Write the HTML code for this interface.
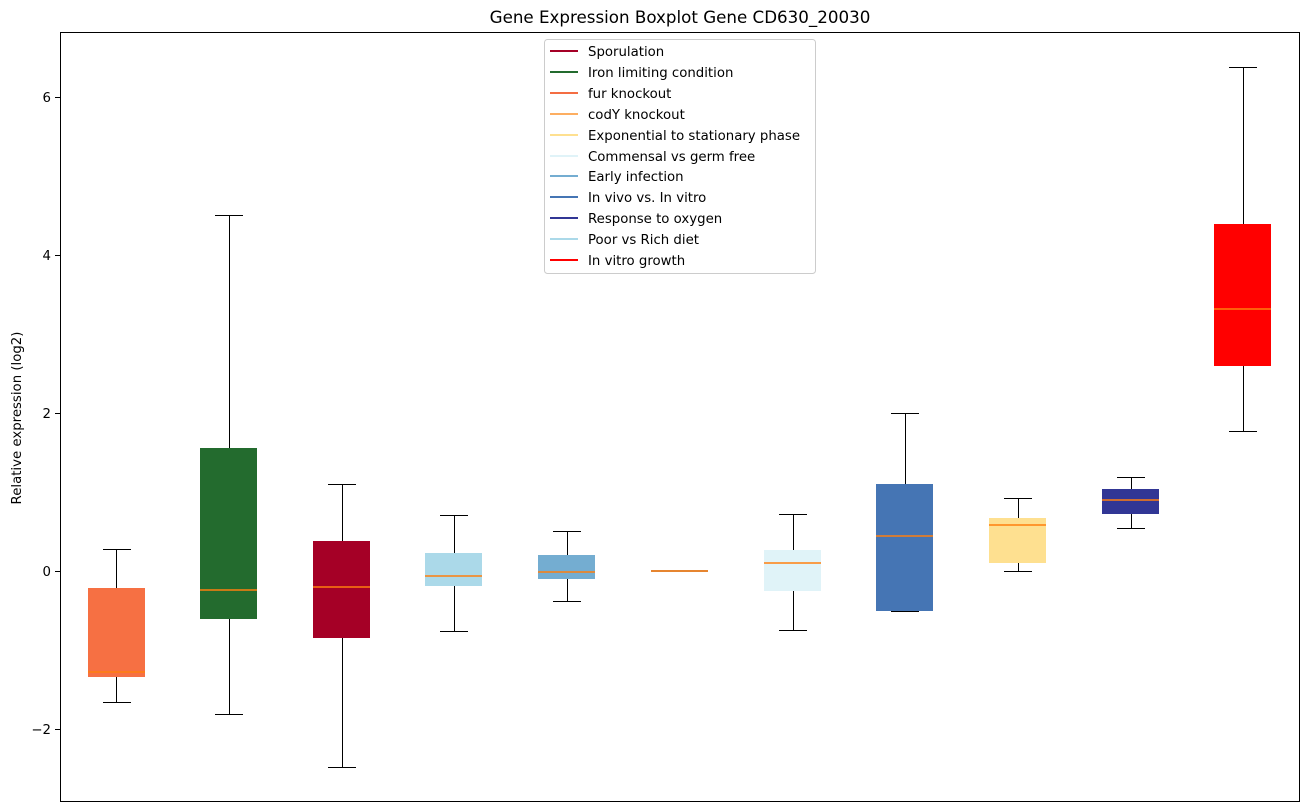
<!DOCTYPE html>
<html><head><meta charset="utf-8"><style>body{margin:0;background:#fff}svg{display:block;font-family:"DejaVu Sans","Liberation Sans",sans-serif}</style></head><body>
<svg width="1309" height="812" xmlns="http://www.w3.org/2000/svg">
<rect width="1309" height="812" fill="#fff"/>
<text x="680" y="23" font-size="16.7" text-anchor="middle">Gene Expression Boxplot Gene CD630_20030</text>
<text transform="translate(21,418) rotate(-90)" font-size="13.3" text-anchor="middle">Relative expression (log2)</text>
<g font-size="13.3" text-anchor="end">
<line x1="55" x2="60" y1="97.5" y2="97.5" stroke="#000"/><text x="51" y="102">6</text>
<line x1="55" x2="60" y1="255.5" y2="255.5" stroke="#000"/><text x="51" y="260">4</text>
<line x1="55" x2="60" y1="413.5" y2="413.5" stroke="#000"/><text x="51" y="418">2</text>
<line x1="55" x2="60" y1="571.5" y2="571.5" stroke="#000"/><text x="51" y="576">0</text>
<line x1="55" x2="60" y1="729.5" y2="729.5" stroke="#000"/><text x="51" y="734">−2</text>
</g>
<g stroke="#000" stroke-width="1" fill="none">
<path d="M116.5 549V588M116.5 677V702M103 549.5H131M103 702.5H131"/>
<path d="M229.5 215V448M229.5 619V714M215 215.5H243M215 714.5H243"/>
<path d="M342.5 484V541M342.5 638V767M328 484.5H356M328 767.5H356"/>
<path d="M454.5 515V553M454.5 586V631M440 515.5H468M440 631.5H468"/>
<path d="M567.5 531V555M567.5 579V601M553 531.5H581M553 601.5H581"/>
<path d="M793.5 514V550M793.5 591V630M779 514.5H807M779 630.5H807"/>
<path d="M905.5 413V484M891 413.5H919M891 611.5H919"/>
<path d="M1018.5 498V518M1018.5 563V571M1004 498.5H1032M1004 571.5H1032"/>
<path d="M1131.5 477V489M1131.5 514V528M1117 477.5H1145M1117 528.5H1145"/>
<path d="M1243.5 67V224M1243.5 366V431M1229 67.5H1257M1229 431.5H1257"/>
</g>
<g>
<rect x="88" y="588" width="57" height="89" fill="#f67043"/>
<rect x="200" y="448" width="57" height="171" fill="#236b2e"/>
<rect x="313" y="541" width="57" height="97" fill="#a50026"/>
<rect x="425" y="553" width="57" height="33" fill="#abd9e9"/>
<rect x="538" y="555" width="57" height="24" fill="#74add1"/>
<rect x="651" y="570" width="57" height="2" fill="#999"/>
<rect x="764" y="550" width="57" height="41" fill="#e0f3f8"/>
<rect x="876" y="484" width="57" height="127" fill="#4575b4"/>
<rect x="989" y="518" width="57" height="45" fill="#fee090"/>
<rect x="1102" y="489" width="57" height="25" fill="#313695"/>
<rect x="1214" y="224" width="57" height="142" fill="#ff0000"/>
</g>
<g stroke="#ff7f0e" stroke-width="1.5">
<path d="M88 672H145M200 590H257M313 587H370M425 576H482M538 572H595M651 571H708M764 563H821M876 536H933M989 525H1046M1102 500H1159M1214 309H1271"/>
</g>
<rect x="60.5" y="32.5" width="1239" height="769" fill="none" stroke="#000"/>
<rect x="544.5" y="39.5" width="271" height="234" rx="3" fill="#fff" fill-opacity="0.8" stroke="#ccc"/>
<g font-size="13.3" stroke-width="2">
<line x1="550" x2="578" y1="51" y2="51" stroke="#a50026"/><text x="588" y="56">Sporulation</text>
<line x1="550" x2="578" y1="72" y2="72" stroke="#236b2e"/><text x="588" y="77">Iron limiting condition</text>
<line x1="550" x2="578" y1="93" y2="93" stroke="#f46d43"/><text x="588" y="98">fur knockout</text>
<line x1="550" x2="578" y1="114" y2="114" stroke="#fdae61"/><text x="588" y="119">codY knockout</text>
<line x1="550" x2="578" y1="135" y2="135" stroke="#fee090"/><text x="588" y="140">Exponential to stationary phase</text>
<line x1="550" x2="578" y1="156" y2="156" stroke="#e0f3f8"/><text x="588" y="161">Commensal vs germ free</text>
<line x1="550" x2="578" y1="176" y2="176" stroke="#74add1"/><text x="588" y="181">Early infection</text>
<line x1="550" x2="578" y1="197" y2="197" stroke="#4575b4"/><text x="588" y="202">In vivo vs. In vitro</text>
<line x1="550" x2="578" y1="218" y2="218" stroke="#313695"/><text x="588" y="223">Response to oxygen</text>
<line x1="550" x2="578" y1="239" y2="239" stroke="#abd9e9"/><text x="588" y="244">Poor vs Rich diet</text>
<line x1="550" x2="578" y1="260" y2="260" stroke="#ff0000"/><text x="588" y="265">In vitro growth</text>
</g>
</svg>
</body></html>
